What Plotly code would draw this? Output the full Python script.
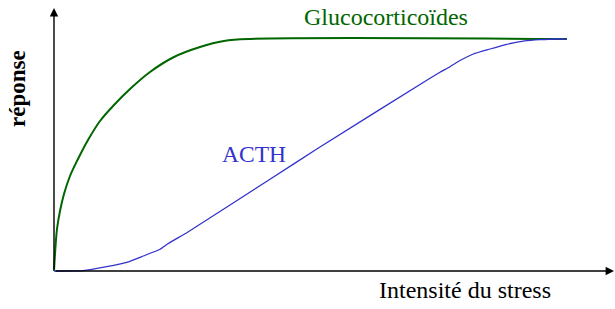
import plotly.graph_objects as go

# Glucocorticoides response curve (stress intensity -> response)
gluco_x = [0, 1, 3, 6, 10, 16, 24, 34, 46, 60, 76, 96, 120, 146, 170, 196, 513]
gluco_y = [0, 17, 42, 60, 77, 95, 112, 131, 150, 166, 182, 199, 214, 224, 230, 232, 232]

# ACTH response curve
acth_x = [0, 29.3, 52.7, 72.7, 89.3, 106, 114.3, 134.3, 216, 264, 376, 386, 396, 406, 419.3, 436, 452.7, 469.3, 486, 506, 513]
acth_y = [0, 0.3, 4.3, 8.7, 15, 21.7, 27.5, 39.3, 91.7, 122.7, 192.7, 198.7, 204.3, 210.5, 217, 222, 226.7, 229.8, 231.3, 232, 232]

labels = {"gluco": "Glucocorticoïdes", "acth": "ACTH", "x": "Intensité du stress", "y": "réponse"}

GREEN = "#006600"
BLUE = "#3333cc"
FONT = "Liberation Serif"

fig = go.Figure()
fig.add_trace(go.Scatter(x=gluco_x, y=gluco_y, mode="lines",
                         line=dict(color=GREEN, width=2, shape="spline", smoothing=1.0),
                         hoverinfo="skip", showlegend=False))
fig.add_trace(go.Scatter(x=acth_x, y=acth_y, mode="lines",
                         line=dict(color=BLUE, width=1.3, shape="spline", smoothing=0.5),
                         hoverinfo="skip", showlegend=False))

# Axes with arrows
fig.add_annotation(x=0, y=263, ax=0, ay=0, xref="x", yref="y", axref="x", ayref="y",
                   showarrow=True, arrowhead=2, arrowsize=1.2, arrowwidth=1.4, arrowcolor="black", text="")
fig.add_annotation(x=560, y=0, ax=0, ay=0, xref="x", yref="y", axref="x", ayref="y",
                   showarrow=True, arrowhead=2, arrowsize=1.2, arrowwidth=1.4, arrowcolor="black", text="")

fig.add_annotation(x=331.5, y=254.5, xref="x", yref="y", text=labels["gluco"], showarrow=False,
                   font=dict(family=FONT, size=24, color=GREEN), xanchor="center", yanchor="middle")
fig.add_annotation(x=200, y=117, xref="x", yref="y", text=labels["acth"], showarrow=False,
                   font=dict(family=FONT, size=23.5, color=BLUE), xanchor="center", yanchor="middle")
fig.add_annotation(x=411, y=-19, xref="x", yref="y", text=labels["x"], showarrow=False,
                   font=dict(family=FONT, size=24, color="black"), xanchor="center", yanchor="middle")
fig.add_annotation(x=-37, y=182, xref="x", yref="y", text="<b>" + labels["y"] + "</b>", showarrow=False,
                   textangle=-90,
                   font=dict(family=FONT, size=23, color="black"), xanchor="center", yanchor="middle")

fig.update_layout(
    width=615, height=309,
    margin=dict(l=0, r=0, t=0, b=0),
    paper_bgcolor="white", plot_bgcolor="white",
    xaxis=dict(range=[-54, 561], visible=False, fixedrange=True),
    yaxis=dict(range=[-38, 271], visible=False, fixedrange=True),
)

fig.write_html("out.html")
